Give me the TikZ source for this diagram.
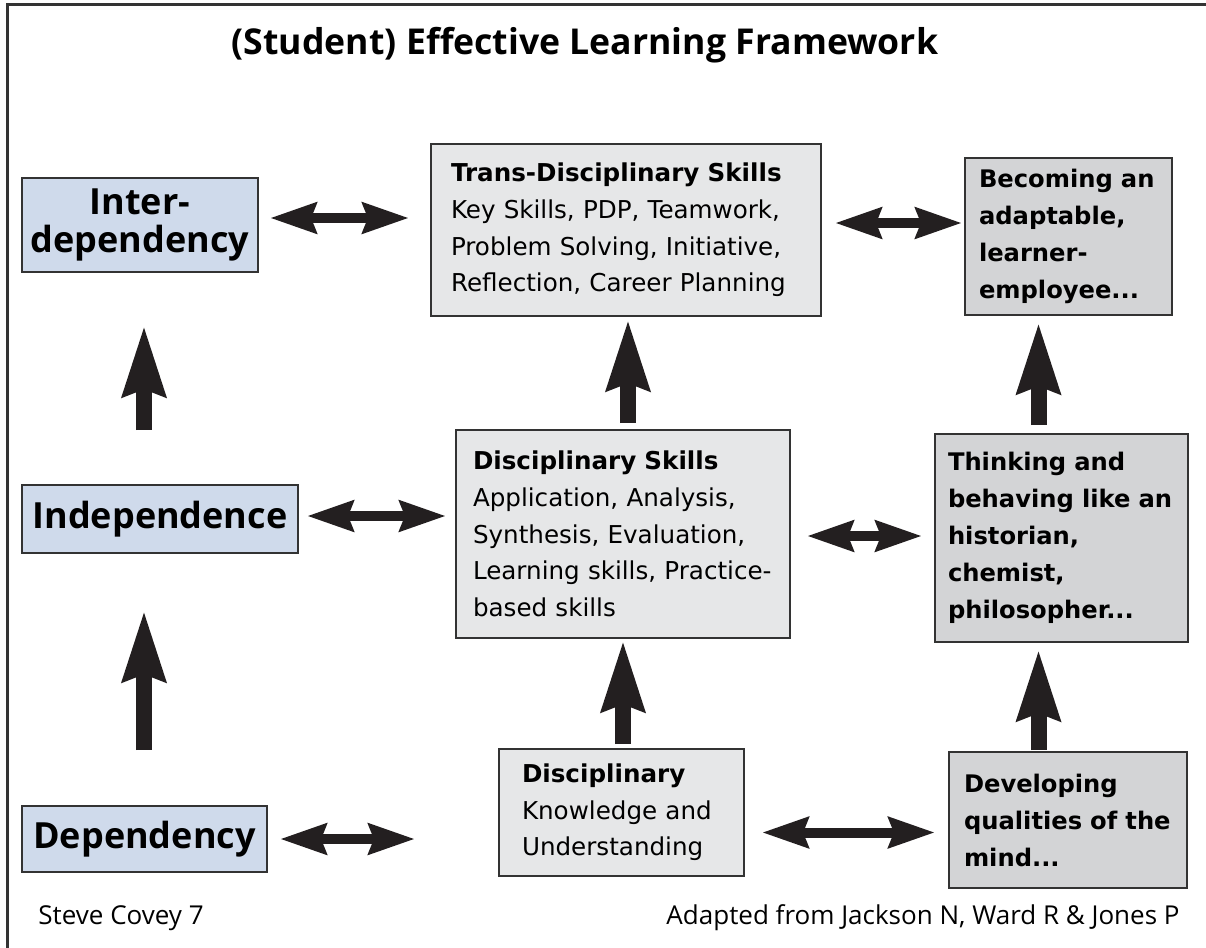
\documentclass[tikz,border=0pt]{standalone}
\usepackage{fontspec}
\setmainfont{Open Sans}
\newfontfamily\boxfont{DejaVu Sans}
\usetikzlibrary{arrows.meta}
\definecolor{bluefill}{RGB}{207,218,235}
\definecolor{skillfill}{RGB}{230,231,232}
\definecolor{goalfill}{RGB}{211,212,214}
\definecolor{boxline}{RGB}{51,51,51}
\definecolor{arrowink}{RGB}{35,31,32}
\tikzset{
  bluebox/.style={draw=boxline, line width=1pt, fill=bluefill, anchor=north west,
    inner sep=0pt, align=center, font=\fontsize{18}{19}\selectfont\bfseries},
  skillbox/.style={draw=boxline, line width=1pt, fill=skillfill, anchor=north west,
    align=left, inner ysep=0pt, font=\boxfont\fontsize{12.3}{18.3}\selectfont},
  goalbox/.style={skillbox, fill=goalfill, font=\boxfont\fontsize{12.1}{18.5}\selectfont\bfseries},
  credit/.style={inner sep=0pt, font=\fontsize{13}{15}\selectfont},
  twoway/.style={draw=arrowink, line width=5pt,
    {Stealth[length=23pt,width=15pt,inset=2.5pt]}-{Stealth[length=23pt,width=15pt,inset=2.5pt]}},
  upway/.style={draw=arrowink, line width=8pt, -{Stealth[length=35pt,width=20.5pt,inset=3pt]}}
}

\begin{document}
\begin{tikzpicture}[x=0.5pt,y=-0.5pt]
\useasboundingbox (0,0) rectangle (1206,948);

% frame and title
\draw[boxline, line width=1.5pt] (7,948) -- (7,4) -- (1206,4);
\node[font=\fontsize{17.8}{20}\selectfont\bfseries] (title) at (585,45) {(Student) Effective Learning Framework};

% left column
\node[bluebox, minimum width=118pt, minimum height=47pt] (interdep) at (21,177) {Inter-\\dependency};
\node[bluebox, minimum width=138pt, minimum height=34pt] (indep) at (21,484) {Independence};
\node[bluebox, minimum width=122.5pt, minimum height=33pt] (dep) at (21,805) {Dependency};

% middle column
\node[skillbox, text width=175pt, inner xsep=10pt, minimum height=86pt] (trans) at (430,143)
  {\textbf{Trans-Disciplinary Skills}\\Key Skills, PDP, Teamwork,\\Problem Solving, Initiative,\\Reflection, Career Planning};
\node[skillbox, text width=150pt, inner xsep=8.5pt, minimum height=104pt] (dskills) at (455,429)
  {\textbf{Disciplinary Skills}\\Application, Analysis,\\Synthesis, Evaluation,\\Learning skills, Practice-\\based skills};
\node[skillbox, text width=99.5pt, inner xsep=11.5pt, minimum height=63.5pt] (dknow) at (498,748)
  {\textbf{Disciplinary}\\Knowledge and\\Understanding};

% right column
\node[goalbox, text width=89.5pt, inner xsep=7pt, minimum height=78.5pt] (becoming) at (964,157)
  {Becoming an\\adaptable,\\learner-\\employee...};
\node[goalbox, text width=113.5pt, inner xsep=6.5pt, minimum height=104pt] (thinking) at (934,433)
  {Thinking and\\behaving like an\\historian,\\chemist,\\philosopher...};
\node[goalbox, text width=104pt, inner xsep=7.5pt, minimum height=68pt] (developing) at (948,751)
  {Developing\\qualities of the\\mind...};

% footer
\node[credit, anchor=west] (covey) at (38,918) {Steve Covey 7};
\node[credit, anchor=east] (source) at (1180,918) {Adapted from Jackson N, Ward R \& Jones P};

% two-way arrows
\draw[twoway] ([xshift=5.5pt,yshift=3.5pt]interdep.east) -- ([xshift=-10.5pt,yshift=3.5pt]interdep.east -| trans.west);
\draw[twoway] ([xshift=4pt,yshift=1.5pt]indep.east) -- ([xshift=-4.5pt,yshift=1.5pt]indep.east -| dskills.west);
\draw[twoway] ([xshift=6pt]dep.east) -- ([xshift=-41.5pt]dep.east -| dknow.west);
\draw[twoway] ([xshift=6.5pt,yshift=3.5pt]trans.east) -- ([xshift=-1pt,yshift=3.5pt]trans.east -| becoming.west);
\draw[twoway] ([xshift=8pt,yshift=-1pt]dskills.east) -- ([xshift=-6pt,yshift=-1pt]dskills.east -| thinking.west);
\draw[twoway] ([xshift=8.5pt,yshift=-10pt]dknow.east) -- ([xshift=-6.5pt,yshift=-10pt]dknow.east -| developing.west);

% upward arrows
\draw[upway] ([xshift=2pt,yshift=27pt]interdep.south |- indep.north) -- ([xshift=2pt,yshift=-26pt]interdep.south);
\draw[upway] ([xshift=2pt,yshift=27.5pt]interdep.south |- dep.north) -- ([xshift=2pt,yshift=-28pt]interdep.south |- indep.south);
\draw[upway] ([xshift=1pt,yshift=3pt]trans.south |- dskills.north) -- ([xshift=1pt,yshift=-1pt]trans.south);
\draw[upway] ([yshift=2pt]dskills.south |- dknow.north) -- ([yshift=-0.5pt]dskills.south);
\draw[upway] ([xshift=-15pt,yshift=4pt]becoming.south |- thinking.north) -- ([xshift=-15pt,yshift=-3pt]becoming.south);
\draw[upway] ([xshift=-15pt,yshift=0.5pt]becoming.south |- developing.north) -- ([xshift=-15pt,yshift=-3pt]becoming.south |- thinking.south);
\end{tikzpicture}
\end{document}
